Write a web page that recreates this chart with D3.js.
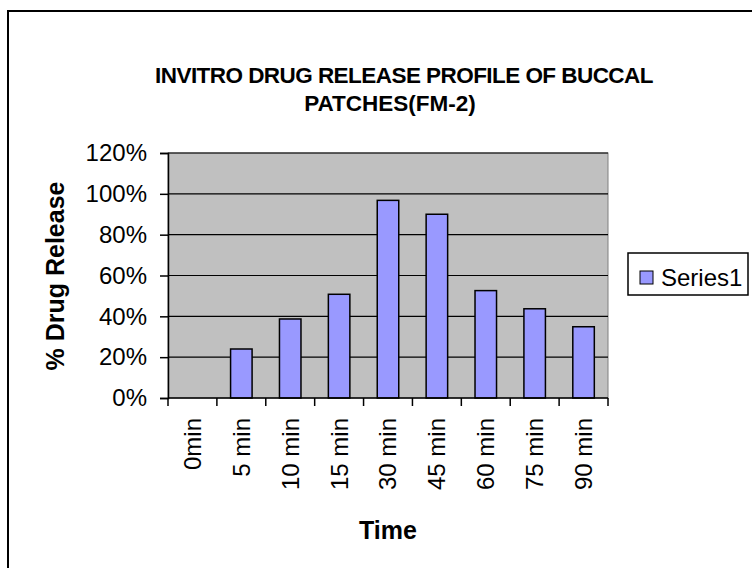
<!DOCTYPE html>
<html>
<head>
<meta charset="utf-8">
<script src="https://cdn.jsdelivr.net/npm/d3@7"></script>
<style>
  body { margin: 0; background: #fff; }
  svg { display: block; font-family: "Liberation Sans", Arial, sans-serif; }
</style>
</head>
<body>
<div class="external"></div>
<script>
// Data
const categories = ['0min', '5 min', '10 min', '15 min', '30 min', '45 min', '60 min', '75 min', '90 min']
const series1 = [0, 0.24, 0.387, 0.508, 0.968, 0.90, 0.526, 0.437, 0.349]
const yTicks = [0, 0.2, 0.4, 0.6, 0.8, 1.0, 1.2]
const titleLines = ['INVITRO DRUG RELEASE PROFILE OF BUCCAL', 'PATCHES(FM-2)']

function draw() {
  let dimensions = {
    width: 752,
    height: 568,
    left: 168,
    right: 608,
    top: 153,
    bottom: 398,
  };

  const svg = d3.select('.external')
    .append('svg')
    .attr('width', dimensions.width)
    .attr('height', dimensions.height)

  // chart border (runs off the right/bottom edge like the original)
  svg.append('rect')
    .attr('x', 8).attr('y', 11)
    .attr('width', 760).attr('height', 570)
    .attr('fill', 'none')
    .attr('stroke', '#000')
    .attr('stroke-width', 2)

  //scales
  const x = d3.scaleBand()
    .domain(categories)
    .range([dimensions.left, dimensions.right])
    .padding(0)

  const y = d3.scaleLinear()
    .domain([0, 1.2])
    .range([dimensions.bottom, dimensions.top])

  // plot area
  svg.append('rect')
    .attr('x', dimensions.left)
    .attr('y', dimensions.top)
    .attr('width', dimensions.right - dimensions.left)
    .attr('height', dimensions.bottom - dimensions.top)
    .attr('fill', '#c0c0c0')
    .attr('stroke', '#808080')

  // gridlines
  svg.append('g')
    .selectAll('line')
    .data(yTicks.slice(1))
    .join('line')
    .attr('x1', dimensions.left)
    .attr('x2', dimensions.right)
    .attr('y1', d => y(d))
    .attr('y2', d => y(d))
    .attr('stroke', '#000')
    .attr('stroke-width', 1.2)

  // bars
  const rows = categories.map((c, i) => ({ cat: c, val: series1[i] })).filter(d => d.val > 0)
  const barW = x.bandwidth() * 0.44
  svg.append('g')
    .attr('fill', '#9999ff')
    .attr('stroke', '#000')
    .attr('stroke-width', 1.5)
    .selectAll('rect')
    .data(rows)
    .join('rect')
    .attr('x', d => x(d.cat) + (x.bandwidth() - barW) / 2)
    .attr('y', d => y(d.val))
    .attr('width', barW)
    .attr('height', d => y(0) - y(d.val))

  // y axis
  const yAxis = d3.axisLeft(y)
    .tickValues(yTicks)
    .tickFormat(d3.format('.0%'))
    .tickSize(8)
    .tickPadding(13)
  const gy = svg.append('g')
    .attr('transform', `translate(${dimensions.left},0)`)
    .call(yAxis)
  gy.select('.domain').attr('stroke', '#000').attr('stroke-width', 1.5)
  gy.selectAll('.tick line').attr('stroke', '#000').attr('stroke-width', 1.5)
  gy.selectAll('.tick text')
    .attr('font-size', 24)
    .attr('font-family', '"Liberation Sans", Arial, sans-serif')
    .attr('fill', '#000')

  // x axis: ticks on category boundaries
  const gx = svg.append('g')
  gx.append('line')
    .attr('x1', dimensions.left).attr('x2', dimensions.right)
    .attr('y1', dimensions.bottom).attr('y2', dimensions.bottom)
    .attr('stroke', '#000').attr('stroke-width', 1.5)
  gx.selectAll('line.tk')
    .data(categories.concat(['end']))
    .join('line')
    .attr('class', 'tk')
    .attr('x1', (d, i) => dimensions.left + i * x.step())
    .attr('x2', (d, i) => dimensions.left + i * x.step())
    .attr('y1', dimensions.bottom)
    .attr('y2', dimensions.bottom + 8)
    .attr('stroke', '#000').attr('stroke-width', 1.5)
  gx.selectAll('text')
    .data(categories)
    .join('text')
    .attr('transform', d => `translate(${x(d) + x.bandwidth() / 2},${dimensions.bottom + 20}) rotate(-90)`)
    .attr('text-anchor', 'end')
    .attr('dy', '0.35em')
    .attr('font-size', 24)
    .text(d => d)

  // titles
  svg.append('g')
    .selectAll('text')
    .data(titleLines)
    .join('text')
    .attr('x', (d, i) => i === 0 ? 404 : 390)
    .attr('y', (d, i) => 83 + i * 28)
    .attr('text-anchor', 'middle')
    .attr('font-weight', 'bold')
    .attr('font-size', 22.5)
    .attr('letter-spacing', (d, i) => i === 0 ? -0.55 : 0)
    .text(d => d)

  svg.append('text')
    .attr('transform', 'translate(55,276) rotate(-90)')
    .attr('text-anchor', 'middle')
    .attr('dy', '0.35em')
    .attr('font-weight', 'bold')
    .attr('font-size', 25)
    .text('% Drug Release')

  svg.append('text')
    .attr('x', (dimensions.left + dimensions.right) / 2)
    .attr('y', 539)
    .attr('text-anchor', 'middle')
    .attr('font-weight', 'bold')
    .attr('font-size', 25)
    .text('Time')

  // legend
  const lg = svg.append('g').attr('transform', 'translate(628,253)')
  lg.append('rect')
    .attr('width', 120).attr('height', 42)
    .attr('fill', '#fff').attr('stroke', '#000').attr('stroke-width', 1.5)
  lg.append('rect')
    .attr('x', 12).attr('y', 18)
    .attr('width', 13).attr('height', 13)
    .attr('fill', '#9999ff').attr('stroke', '#000')
  lg.append('text')
    .attr('x', 33).attr('y', 24.5)
    .attr('dy', '0.35em')
    .attr('font-size', 24)
    .text('Series1')
}

draw()
</script>
</body>
</html>
